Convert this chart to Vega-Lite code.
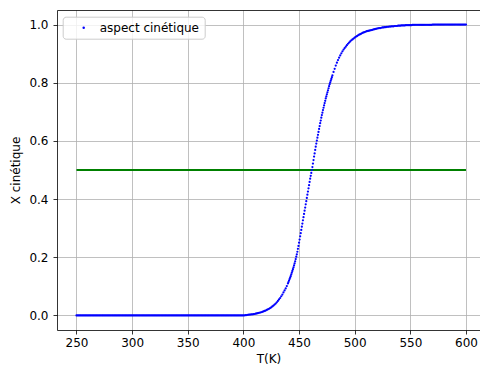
{
"$schema": "https://vega.github.io/schema/vega-lite/v6.json",
"width": 423, "height": 320,
"autosize": {"type": "none"},
"padding": {"left": 57, "top": 10, "right": 0, "bottom": 35},
"background": "white",
"config": {
 "view": {"stroke": null},
 "font": "DejaVu Sans",
 "axis": {"labelFont": "DejaVu Sans", "titleFont": "DejaVu Sans", "labelFontSize": 12, "titleFontSize": 12, "titleFontWeight": "normal", "labelColor": "#000", "titleColor": "#000", "domainColor": "#000", "domainWidth": 0.8, "tickColor": "#000", "tickWidth": 0.8, "tickSize": 4, "gridColor": "#b0b0b0", "gridWidth": 0.8, "gridOpacity": 1, "labelPadding": 3}
},
"datasets": {
 "blue": [
{"T":250,"X":0},{"T":251,"X":0},{"T":252,"X":0},{"T":253,"X":0},{"T":254,"X":0},{"T":255,"X":0},{"T":256,"X":0},{"T":257,"X":0},{"T":258,"X":0},{"T":259,"X":0},
{"T":260,"X":0},{"T":261,"X":0},{"T":262,"X":0},{"T":263,"X":0},{"T":264,"X":0},{"T":265,"X":0},{"T":266,"X":0},{"T":267,"X":0},{"T":268,"X":0},{"T":269,"X":0},
{"T":270,"X":0},{"T":271,"X":0},{"T":272,"X":0},{"T":273,"X":0},{"T":274,"X":0},{"T":275,"X":0},{"T":276,"X":0},{"T":277,"X":0},{"T":278,"X":0},{"T":279,"X":0},
{"T":280,"X":0},{"T":281,"X":0},{"T":282,"X":0},{"T":283,"X":0},{"T":284,"X":0},{"T":285,"X":0},{"T":286,"X":0},{"T":287,"X":0},{"T":288,"X":0},{"T":289,"X":0},
{"T":290,"X":0},{"T":291,"X":0},{"T":292,"X":0},{"T":293,"X":0},{"T":294,"X":0},{"T":295,"X":0},{"T":296,"X":0},{"T":297,"X":0},{"T":298,"X":0},{"T":299,"X":0},
{"T":300,"X":0},{"T":301,"X":0},{"T":302,"X":0},{"T":303,"X":0},{"T":304,"X":0},{"T":305,"X":0},{"T":306,"X":0},{"T":307,"X":0},{"T":308,"X":0},{"T":309,"X":0},
{"T":310,"X":0},{"T":311,"X":0},{"T":312,"X":0},{"T":313,"X":0},{"T":314,"X":0},{"T":315,"X":0},{"T":316,"X":0},{"T":317,"X":0},{"T":318,"X":0},{"T":319,"X":0},
{"T":320,"X":0},{"T":321,"X":0},{"T":322,"X":0},{"T":323,"X":0},{"T":324,"X":0},{"T":325,"X":0},{"T":326,"X":0},{"T":327,"X":0},{"T":328,"X":0},{"T":329,"X":0},
{"T":330,"X":0},{"T":331,"X":0},{"T":332,"X":0},{"T":333,"X":0},{"T":334,"X":0},{"T":335,"X":0},{"T":336,"X":0},{"T":337,"X":0},{"T":338,"X":0},{"T":339,"X":0},
{"T":340,"X":0},{"T":341,"X":0},{"T":342,"X":0},{"T":343,"X":0},{"T":344,"X":0},{"T":345,"X":0},{"T":346,"X":0},{"T":347,"X":0},{"T":348,"X":0},{"T":349,"X":0},
{"T":350,"X":0},{"T":351,"X":0},{"T":352,"X":0},{"T":353,"X":0},{"T":354,"X":0},{"T":355,"X":0},{"T":356,"X":0},{"T":357,"X":0},{"T":358,"X":0},{"T":359,"X":0},
{"T":360,"X":0},{"T":361,"X":0},{"T":362,"X":0},{"T":363,"X":0},{"T":364,"X":0},{"T":365,"X":0},{"T":366,"X":0},{"T":367,"X":0},{"T":368,"X":0},{"T":369,"X":0},
{"T":370,"X":0},{"T":371,"X":0},{"T":372,"X":0},{"T":373,"X":0},{"T":374,"X":0},{"T":375,"X":0},{"T":376,"X":0},{"T":377,"X":0},{"T":378,"X":0},{"T":379,"X":0},
{"T":380,"X":0},{"T":381,"X":0},{"T":382,"X":0},{"T":383,"X":0},{"T":384,"X":0},{"T":385,"X":0},{"T":386,"X":0},{"T":387,"X":0},{"T":388,"X":0},{"T":389,"X":0},
{"T":390,"X":0},{"T":391,"X":0},{"T":392,"X":0},{"T":393,"X":0},{"T":394,"X":0},{"T":395,"X":0},{"T":396,"X":0},{"T":397,"X":0},{"T":398,"X":0},{"T":399,"X":0},
{"T":400,"X":0},{"T":401,"X":0.0005},{"T":402,"X":0.001},{"T":403,"X":0.0015},{"T":404,"X":0.002},{"T":405,"X":0.0025},{"T":406,"X":0.003},{"T":407,"X":0.0035},{"T":408,"X":0.004},{"T":409,"X":0.0045},
{"T":410,"X":0.005},{"T":411,"X":0.006},{"T":412,"X":0.007},{"T":413,"X":0.008},{"T":414,"X":0.009},{"T":415,"X":0.010},{"T":416,"X":0.011},{"T":417,"X":0.0125},{"T":418,"X":0.014},{"T":419,"X":0.0155},
{"T":420,"X":0.017},{"T":421,"X":0.019},{"T":422,"X":0.021},{"T":423,"X":0.023},{"T":424,"X":0.0255},{"T":425,"X":0.028},{"T":426,"X":0.031},{"T":427,"X":0.034},{"T":428,"X":0.0375},{"T":429,"X":0.041},
{"T":430,"X":0.045},{"T":431,"X":0.050},{"T":432,"X":0.055},{"T":433,"X":0.060},{"T":434,"X":0.066},{"T":435,"X":0.072},{"T":436,"X":0.079},{"T":437,"X":0.086},{"T":438,"X":0.093},{"T":439,"X":0.101},
{"T":440,"X":0.110},{"T":440.5,"X":0.115},{"T":441,"X":0.120},{"T":441.5,"X":0.125},{"T":442,"X":0.130},{"T":442.5,"X":0.135},{"T":443,"X":0.141},{"T":443.5,"X":0.147},{"T":444,"X":0.153},{"T":444.5,"X":0.159},
{"T":445,"X":0.165},{"T":445.5,"X":0.172},{"T":446,"X":0.179},{"T":446.5,"X":0.186},{"T":447,"X":0.194},{"T":447.5,"X":0.202},{"T":448,"X":0.210},{"T":448.5,"X":0.219},{"T":449,"X":0.229},{"T":449.5,"X":0.239},
{"T":450,"X":0.250},{"T":450.5,"X":0.261},{"T":451,"X":0.272},{"T":451.5,"X":0.283},{"T":452,"X":0.294},{"T":452.5,"X":0.305},{"T":453,"X":0.316},{"T":453.5,"X":0.327},{"T":454,"X":0.338},{"T":454.5,"X":0.349},
{"T":455,"X":0.360},{"T":455.5,"X":0.371},{"T":456,"X":0.382},{"T":456.5,"X":0.393},{"T":457,"X":0.404},{"T":457.5,"X":0.415},{"T":458,"X":0.426},{"T":458.5,"X":0.437},{"T":459,"X":0.448},{"T":459.5,"X":0.459},
{"T":460,"X":0.470},{"T":460.5,"X":0.480},{"T":461,"X":0.490},{"T":461.5,"X":0.500},{"T":462,"X":0.510},{"T":462.5,"X":0.522},{"T":463,"X":0.534},{"T":463.5,"X":0.546},{"T":464,"X":0.557},{"T":464.5,"X":0.569},
{"T":465,"X":0.580},{"T":465.5,"X":0.591},{"T":466,"X":0.601},{"T":466.5,"X":0.611},{"T":467,"X":0.621},{"T":467.5,"X":0.631},{"T":468,"X":0.641},{"T":468.5,"X":0.651},{"T":469,"X":0.661},{"T":469.5,"X":0.670},
{"T":470,"X":0.680},{"T":470.5,"X":0.689},{"T":471,"X":0.697},{"T":471.5,"X":0.706},{"T":472,"X":0.714},{"T":472.5,"X":0.722},{"T":473,"X":0.730},{"T":473.5,"X":0.738},{"T":474,"X":0.746},{"T":474.5,"X":0.753},
{"T":475,"X":0.760},{"T":475.5,"X":0.767},{"T":476,"X":0.774},{"T":476.5,"X":0.781},{"T":477,"X":0.788},{"T":477.5,"X":0.795},{"T":478,"X":0.801},{"T":478.5,"X":0.807},{"T":479,"X":0.813},{"T":479.5,"X":0.819},
{"T":480,"X":0.825},{"T":481,"X":0.837},{"T":482,"X":0.848},{"T":483,"X":0.859},{"T":484,"X":0.869},{"T":485,"X":0.878},{"T":486,"X":0.886},{"T":487,"X":0.894},{"T":488,"X":0.901},{"T":489,"X":0.908},
{"T":490,"X":0.914},{"T":491,"X":0.919},{"T":492,"X":0.924},{"T":493,"X":0.929},{"T":494,"X":0.934},{"T":495,"X":0.938},{"T":496,"X":0.942},{"T":497,"X":0.946},{"T":498,"X":0.949},{"T":499,"X":0.952},
{"T":500,"X":0.955},{"T":501,"X":0.958},{"T":502,"X":0.960},{"T":503,"X":0.963},{"T":504,"X":0.965},{"T":505,"X":0.967},{"T":506,"X":0.969},{"T":507,"X":0.971},{"T":508,"X":0.973},{"T":509,"X":0.974},
{"T":510,"X":0.976},{"T":511,"X":0.977},{"T":512,"X":0.978},{"T":513,"X":0.979},{"T":514,"X":0.980},{"T":515,"X":0.981},{"T":516,"X":0.982},{"T":517,"X":0.983},{"T":518,"X":0.984},{"T":519,"X":0.985},
{"T":520,"X":0.986},{"T":521,"X":0.987},{"T":522,"X":0.988},{"T":523,"X":0.988},{"T":524,"X":0.989},{"T":525,"X":0.990},{"T":526,"X":0.990},{"T":527,"X":0.991},{"T":528,"X":0.991},{"T":529,"X":0.992},
{"T":530,"X":0.992},{"T":531,"X":0.993},{"T":532,"X":0.993},{"T":533,"X":0.994},{"T":534,"X":0.994},{"T":535,"X":0.994},{"T":536,"X":0.995},{"T":537,"X":0.995},{"T":538,"X":0.995},{"T":539,"X":0.996},
{"T":540,"X":0.996},{"T":541,"X":0.996},{"T":542,"X":0.997},{"T":543,"X":0.997},{"T":544,"X":0.997},{"T":545,"X":0.997},{"T":546,"X":0.998},{"T":547,"X":0.998},{"T":548,"X":0.998},{"T":549,"X":0.998},
{"T":550,"X":0.998},{"T":551,"X":0.998},{"T":552,"X":0.999},{"T":553,"X":0.999},{"T":554,"X":0.999},{"T":555,"X":0.999},{"T":556,"X":0.999},{"T":557,"X":0.999},{"T":558,"X":0.999},{"T":559,"X":0.999},
{"T":560,"X":0.999},{"T":561,"X":0.999},{"T":562,"X":0.999},{"T":563,"X":0.999},{"T":564,"X":0.999},{"T":565,"X":0.999},{"T":566,"X":0.999},{"T":567,"X":0.999},{"T":568,"X":0.999},{"T":569,"X":0.999},
{"T":570,"X":1},{"T":571,"X":1},{"T":572,"X":1},{"T":573,"X":1},{"T":574,"X":1},{"T":575,"X":1},{"T":576,"X":1},{"T":577,"X":1},{"T":578,"X":1},{"T":579,"X":1},
{"T":580,"X":1},{"T":581,"X":1},{"T":582,"X":1},{"T":583,"X":1},{"T":584,"X":1},{"T":585,"X":1},{"T":586,"X":1},{"T":587,"X":1},{"T":588,"X":1},{"T":589,"X":1},
{"T":590,"X":1},{"T":591,"X":1},{"T":592,"X":1},{"T":593,"X":1},{"T":594,"X":1},{"T":595,"X":1},{"T":596,"X":1},{"T":597,"X":1},{"T":598,"X":1},{"T":599,"X":1},
{"T":600,"X":1}
 ],
 "green": [{"T":250,"X":0.5},{"T":600,"X":0.5}]
},
"layer": [
 {
  "data": {"name": "green"},
  "mark": {"type": "line", "color": "#008000", "strokeWidth": 2},
  "encoding": {
   "x": {"field": "T", "type": "quantitative", "scale": {"domain": [232.5, 612.6], "nice": false, "zero": false}, "axis": {"orient": "top", "labels": false, "ticks": false, "grid": false, "title": null, "domain": true}},
   "y": {"field": "X", "type": "quantitative", "scale": {"domain": [-0.05, 1.05], "nice": false, "zero": false}, "axis": null}
  }
 },
 {
  "data": {"name": "blue"},
  "mark": {"type": "point", "filled": true, "size": 5, "opacity": 1},
  "encoding": {
   "x": {"field": "T", "type": "quantitative", "axis": {"orient": "bottom", "values": [250, 300, 350, 400, 450, 500, 550, 600], "grid": true, "title": "T(K)", "titlePadding": 5, "labelFlush": false}},
   "y": {"field": "X", "type": "quantitative", "axis": {"values": [0, 0.2, 0.4, 0.6, 0.8, 1.0], "format": ".1f", "grid": true, "title": "X cinétique", "labelPadding": 5, "titlePadding": 6}},
   "color": {"datum": "aspect cinétique", "type": "nominal", "scale": {"range": ["#0000ff"]},
    "legend": {"orient": "none", "legendX": 5.7, "legendY": 6.7, "title": null, "padding": 5, "strokeColor": "#cccccc", "cornerRadius": 3, "fillColor": "rgba(255,255,255,0.8)", "symbolType": "circle", "symbolSize": 6, "symbolOffset": 10, "labelOffset": 10, "labelFontSize": 12, "labelFont": "DejaVu Sans", "labelColor": "#000", "symbolStrokeWidth": 0}}
  }
 }
],
"resolve": {"axis": {"x": "independent", "y": "independent"}}
}
